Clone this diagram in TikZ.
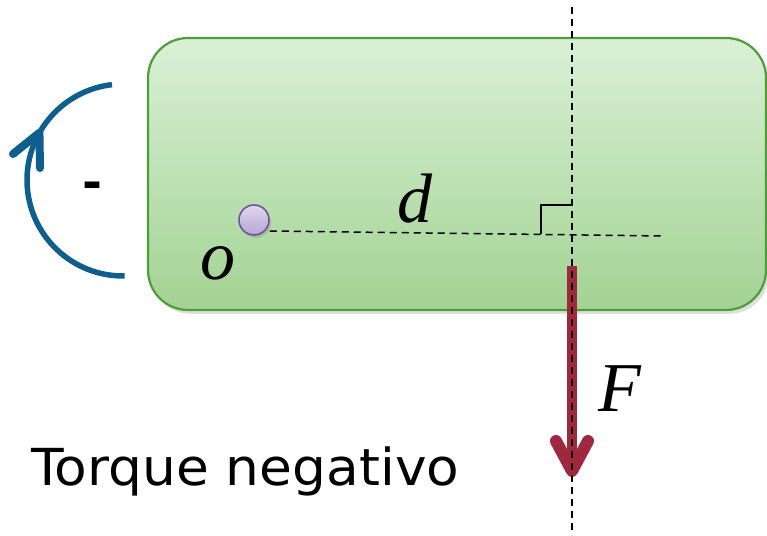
\documentclass[tikz,border=0pt]{standalone}
\usepackage{fontspec}
\setmainfont{Liberation Serif}
\newfontfamily\dvsans[FakeStretch=1.047]{DejaVu Sans}
\usetikzlibrary{shadows}
\definecolor{boxtop}{HTML}{DAF0D6}
\definecolor{boxbot}{HTML}{A2D393}
\definecolor{boxedge}{HTML}{4F9D3A}
\definecolor{arcblue}{HTML}{0E5E8E}
\definecolor{forcered}{HTML}{A0283E}
\definecolor{ptop}{HTML}{E0D6EE}
\definecolor{pbot}{HTML}{B6A6D2}
\definecolor{pedge}{HTML}{6E4C9E}
\tikzset{
  dashline/.style={line width=1.5pt, dash pattern=on 7pt off 5pt},
  bigital/.style={font=\fontsize{70}{80}\selectfont\itshape, inner sep=0pt, anchor=base},
}
\begin{document}
\begin{tikzpicture}[x=1pt,y=1pt]
\useasboundingbox (0,0) rectangle (767,535);
% body
\draw[boxedge, line width=2.2pt, rounded corners=40pt, top color=boxtop, bottom color=boxbot,
      drop shadow={shadow xshift=3pt, shadow yshift=-4pt, opacity=0.25}]
  (148,225) rectangle (766,497);
% vertical line of action
\coordinate (VT) at (572,528);
\coordinate (VB) at (572,0);
% distance line
\node[circle, minimum size=30pt, inner sep=0pt, draw=pedge, line width=1.5pt,
      top color=ptop, bottom color=pbot,
      drop shadow={shadow xshift=2pt, shadow yshift=-3pt, opacity=0.3}] (O) at (254,315) {};
\coordinate (DE) at (663,299);
\draw[dashline] (O.east) ++(0,-11) coordinate (DS) -- (DE);
% right angle
\coordinate (RA) at (541,301);
\draw[line width=1.5pt] (RA) -- (541,330) -- (572,330);
% force
\coordinate (FS) at (572,269);
\coordinate (FT) at (572,64);
\draw[forcered, line width=10pt, line cap=butt] (FS) -- ([yshift=4pt]FT);
\draw[forcered, line width=12pt, line cap=round, line join=round] (556,94) -- (FT) -- (588,94);
\draw[dashline] (VT) -- (VB);
% rotation arc
\coordinate (AC) at (123,355);
\draw[arcblue, line width=5.5pt] ([shift={(271:96)}]AC) arc[start angle=271, end angle=150.5, radius=96]
  coordinate (AT) arc[start angle=150.5, end angle=96.6, radius=96];
\draw[arcblue, line width=8pt, line cap=round, line join=round] (13,381) -- (AT) -- (40,367);
% labels
\node[font=\dvsans\bfseries\fontsize{46}{52}\selectfont, inner sep=0pt] (minus) at (92,345) {-};
\node[bigital] (olab) at (218,255) {o};
\node[bigital] (dlab) at (415,312) {d};
\node[bigital] (flab) at (620,123) {F};
\node[font=\dvsans\fontsize{51}{60}\selectfont, inner sep=0pt, anchor=base west] (title) at (31,50) {Torque negativo};
\end{tikzpicture}
\end{document}
